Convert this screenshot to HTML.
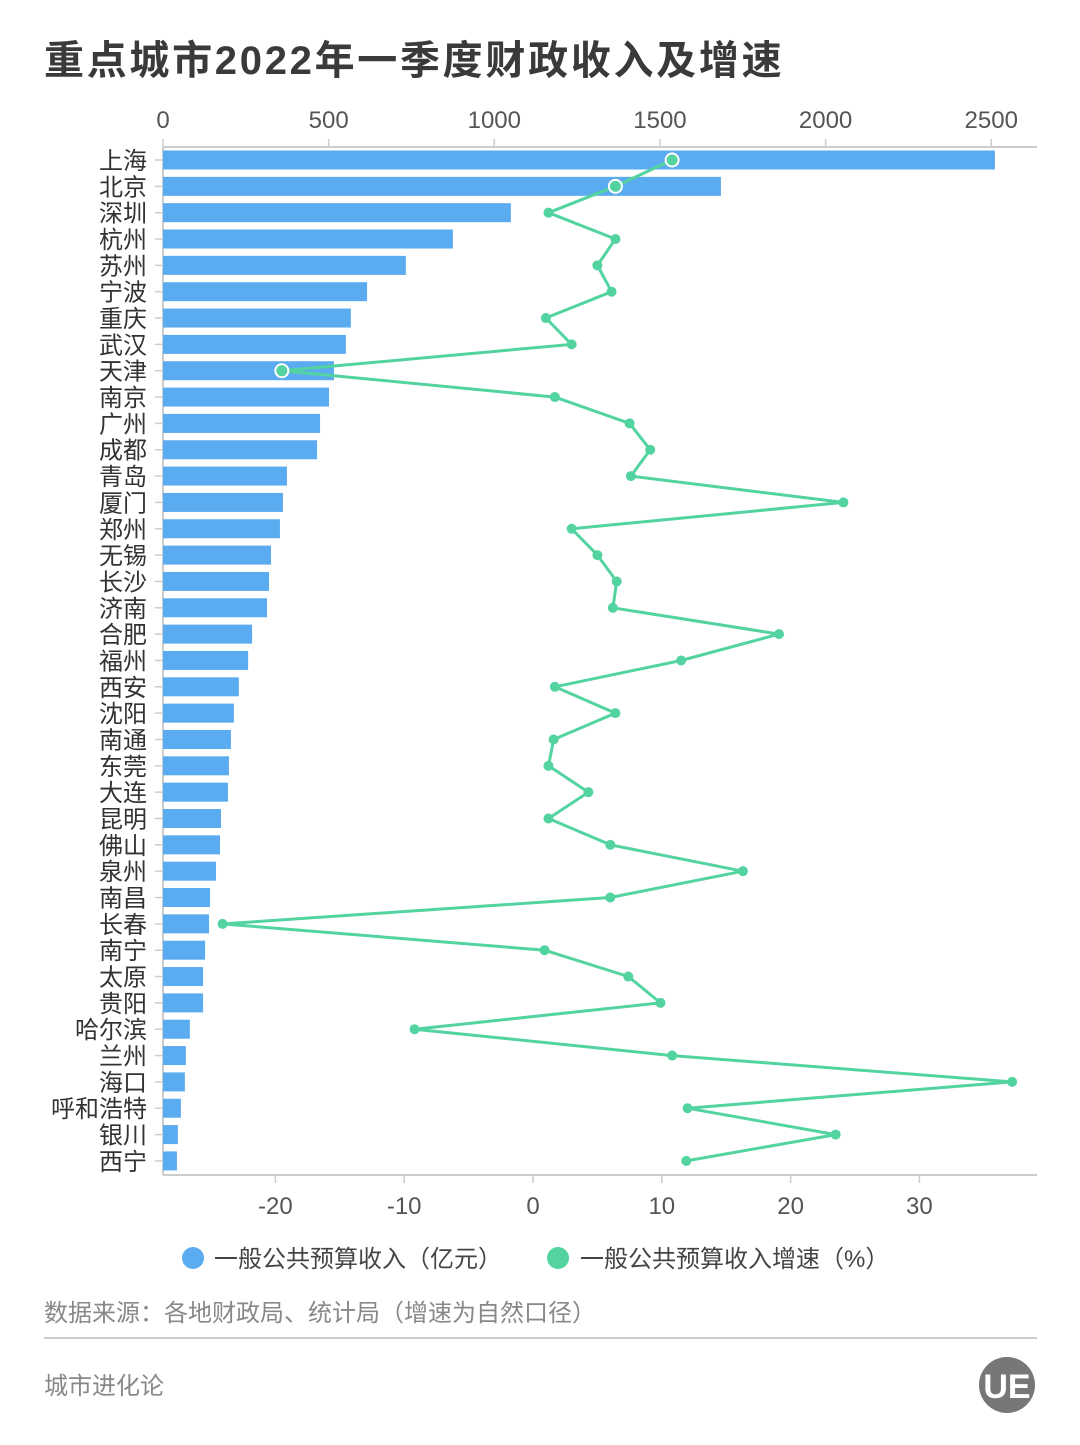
<!DOCTYPE html>
<html><head><meta charset="utf-8"><style>
body{margin:0;background:#fff;width:1080px;height:1440px;overflow:hidden;font-family:"Liberation Sans","Noto Sans CJK SC",sans-serif;}
</style></head><body>
<svg id="c" width="1080" height="1440" xmlns="http://www.w3.org/2000/svg" style="font-family:'Liberation Sans','Noto Sans CJK SC',sans-serif">
<text x="44" y="74" font-size="40" font-weight="bold" fill="#3a3a3a" letter-spacing="2.7">重点城市2022年一季度财政收入及增速</text>
<g id="grid"></g>
<g id="bars"></g>
<g id="line"></g>
<g id="labels"></g>
<g>
<circle cx="193" cy="1258" r="11" fill="#5aabf0"/>
<text x="214" y="1267" font-size="24" fill="#444">一般公共预算收入（亿元）</text>
<circle cx="558" cy="1258" r="11" fill="#52d3a0"/>
<text x="580" y="1267" font-size="24" fill="#444">一般公共预算收入增速（%）</text>
</g>
<text x="44" y="1321" font-size="24" fill="#888">数据来源：各地财政局、统计局（增速为自然口径）</text>
<line x1="44" y1="1338" x2="1037" y2="1338" stroke="#ccc" stroke-width="2"/>
<text x="44" y="1394" font-size="24" fill="#888">城市进化论</text>
<g>
<circle cx="1007" cy="1385" r="28" fill="#777"/>
<text x="1007" y="1398" font-size="34" font-weight="bold" fill="#fff" text-anchor="middle">UE</text>
</g>
</svg>
<script>
const cities=["上海","北京","深圳","杭州","苏州","宁波","重庆","武汉","天津","南京","广州","成都","青岛","厦门","郑州","无锡","长沙","济南","合肥","福州","西安","沈阳","南通","东莞","大连","昆明","佛山","泉州","南昌","长春","南宁","太原","贵阳","哈尔滨","兰州","海口","呼和浩特","银川","西宁"];
const revenue=[2511,1684,1050,875,733,616,567,552,516,501,474,465,374,362,353,326,320,314,269,257,229,214,205,199,196,175,172,160,142,139,127,121,121,81,69,66,54,45,42];
const growth=[10.8,6.4,1.2,6.4,5.0,6.1,1.0,3.0,-19.5,1.7,7.5,9.1,7.6,24.1,3.0,5.0,6.5,6.2,19.1,11.5,1.7,6.4,1.6,1.2,4.3,1.2,6.0,16.3,6.0,-24.1,0.9,7.4,9.9,-9.2,10.8,37.2,12.0,23.5,11.9];
const topTicks=[0,500,1000,1500,2000,2500];
const bottomTicks=[-20,-10,0,10,20,30];
const highlighted=["上海","北京","天津"];
const NS="http://www.w3.org/2000/svg";
const xTop=v=>163+v*0.3313;
const xBot=v=>533+v*12.88;
const yRow=i=>160+i*26.34;
function mk(tag,attrs,parent,txt){const e=document.createElementNS(NS,tag);for(const k in attrs)e.setAttribute(k,attrs[k]);if(txt!==undefined)e.textContent=txt;document.getElementById(parent).appendChild(e);return e;}
let e;
e=mk("line",{x1:163,y1:147,x2:1037,y2:147,stroke:"#ccc","stroke-width":2},"grid");


e=mk("line",{x1:163,y1:1175,x2:1037,y2:1175,stroke:"#ccc","stroke-width":2},"grid");


e=mk("line",{x1:163,y1:147,x2:163,y2:1175,stroke:"#ccc","stroke-width":2},"grid");


topTicks.forEach(t=>{
 const x=xTop(t);
 e=mk("line",{x1:x,y1:139,x2:x,y2:147,stroke:"#ccc","stroke-width":1.5},"grid");
 
 
 e=mk("text",{x:x,y:128,"font-size":24,fill:"#555","text-anchor":"middle"},"grid",String(t));
 
 
});
bottomTicks.forEach(t=>{
 const x=xBot(t);
 e=mk("line",{x1:x,y1:1175,x2:x,y2:1183,stroke:"#ccc","stroke-width":1.5},"grid");
 
 
 e=mk("text",{x:x,y:1214,"font-size":24,fill:"#555","text-anchor":"middle"},"grid",String(t));
 
 
});
cities.forEach((c,i)=>{
 const y=yRow(i);
 e=mk("rect",{x:163,y:y-9.5,width:xTop(revenue[i])-163,height:19,fill:"#5aabf0"},"bars");
 
 
 e=mk("line",{x1:155,y1:y,x2:163,y2:y,stroke:"#ccc","stroke-width":1.5},"grid");
 
 
 e=mk("text",{x:147,y:y+9,"font-size":24,fill:"#333","text-anchor":"end"},"labels",c);
 
 
});
const pts=growth.map((g,i)=>xBot(g).toFixed(1)+","+yRow(i).toFixed(1)).join(" ");
e=mk("polyline",{points:pts,fill:"none",stroke:"#52d3a0","stroke-width":3,"stroke-linejoin":"round"},"line");


growth.forEach((g,i)=>{
 const hl=highlighted.includes(cities[i]);
 e=mk("circle",{cx:xBot(g),cy:yRow(i),r:hl?6.5:5,fill:"#52d3a0",stroke:hl?"#fff":"none","stroke-width":hl?2:0},"line");
 
 
});
</script>
</body></html>
